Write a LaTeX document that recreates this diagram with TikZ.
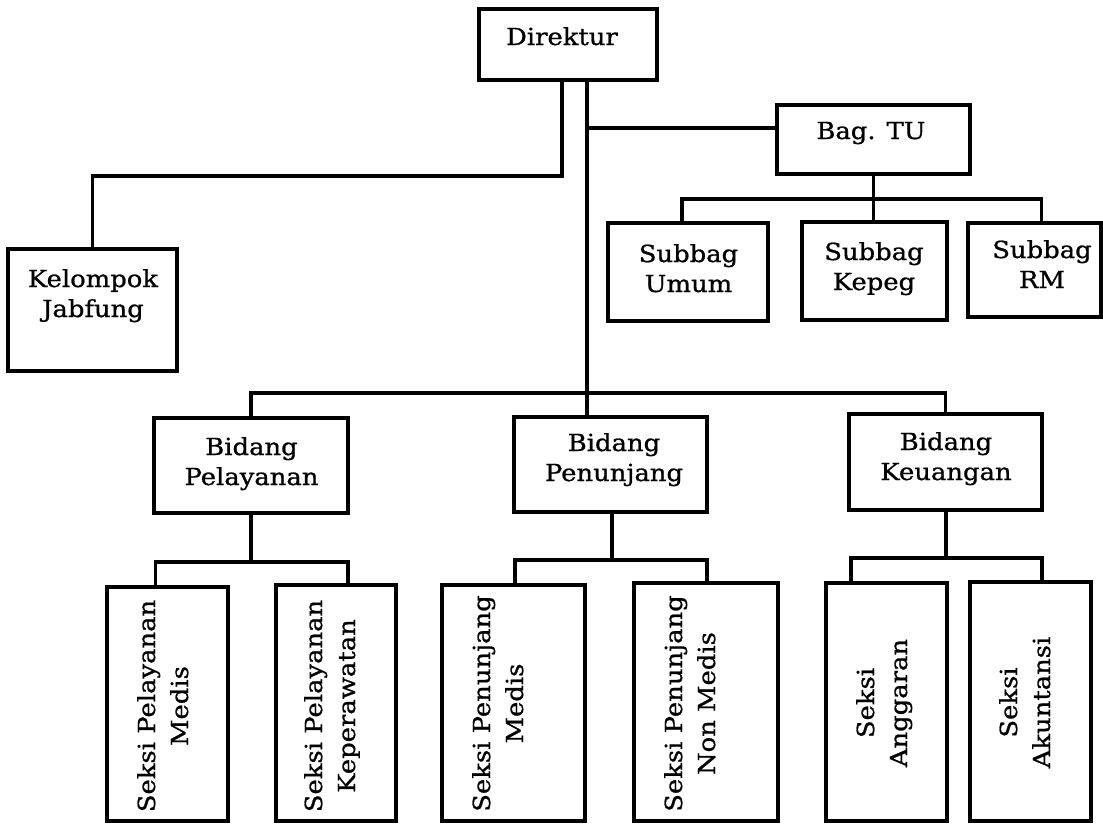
\documentclass[tikz,border=0pt]{standalone}
\usepackage{fontspec}
\setmainfont{DejaVu Serif}[FakeStretch=1.1,FakeBold=0.9]
\begin{document}
\begin{tikzpicture}[x=1pt,y=-1pt,
  box/.style={draw,line width=3.4pt,inner sep=0pt,outer sep=0pt},
  txt/.style={inner sep=0pt,outer sep=0pt,align=center,anchor=base,font=\fontsize{23.5}{30}\selectfont},
  vtxt/.style={inner sep=0pt,outer sep=0pt,align=center,anchor=base,rotate=90,font=\fontsize{23.5}{33}\selectfont},
  conn/.style={line width=3.4pt}]
\useasboundingbox (0,0) rectangle (1103,823);
% boxes
\node[box,minimum width=178pt,minimum height=71pt] (dir) at (568,44.5) {};
\node[box,minimum width=193pt,minimum height=69pt] (tu) at (873.5,139.5) {};
\node[box,minimum width=169pt,minimum height=122pt] (kel) at (92.5,310) {};
\node[box,minimum width=160pt,minimum height=98pt] (sum) at (688,272) {};
\node[box,minimum width=145pt,minimum height=98pt] (skp) at (874.5,271) {};
\node[box,minimum width=133pt,minimum height=94pt] (srm) at (1034.5,270) {};
\node[box,minimum width=194pt,minimum height=95pt] (bpl) at (251,465.5) {};
\node[box,minimum width=193pt,minimum height=95pt] (bpn) at (610.5,464.5) {};
\node[box,minimum width=193pt,minimum height=96pt] (bku) at (945.5,462) {};
\node[box,minimum width=121pt,minimum height=234pt] (spm) at (167.5,704) {};
\node[box,minimum width=120pt,minimum height=236pt] (spk) at (336,703) {};
\node[box,minimum width=143pt,minimum height=236pt] (snm) at (513.5,703) {};
\node[box,minimum width=144pt,minimum height=238pt] (snn) at (706,702) {};
\node[box,minimum width=121pt,minimum height=238pt] (sag) at (886.5,702) {};
\node[box,minimum width=121pt,minimum height=239pt] (sak) at (1030.5,701.5) {};
% texts (anchor at the baseline of the last line)
\node[txt] (tdir) at (562,45) {Direktur};
\node[txt] (ttu) at (871,139) {Bag. TU};
\node[txt] (tkel) at (93,317) {Kelompok\\Jabfung};
\node[txt] (tsum) at (688.5,292) {Subbag\\Umum};
\node[txt] (tskp) at (874,290) {Subbag\\Kepeg};
\node[txt] (tsrm) at (1042,288) {Subbag\\RM};
\node[txt] (tbpl) at (251.5,485) {Bidang\\Pelayanan};
\node[txt] (tbpn) at (614,481) {Bidang\\Penunjang};
\node[txt] (tbku) at (946,480) {Bidang\\Keuangan};
\node[vtxt] (tspm) at (188,706) {Seksi Pelayanan\\Medis};
\node[vtxt] (tspk) at (355,706) {Seksi Pelayanan\\Keperawatan};
\node[vtxt] (tsnm) at (523,703.5) {Seksi Penunjang\\Medis};
\node[vtxt] (tsnn) at (715,703.5) {Seksi Penunjang\\Non Medis};
\node[vtxt] (tsag) at (907,703) {Seksi\\Anggaran};
\node[vtxt] (tsak) at (1050,702.5) {Seksi\\Akuntansi};
% junction coordinates
\coordinate (jk) at (562,176);
\coordinate (jt) at (587,128);
\coordinate (js) at (873,199);
\coordinate (jb) at (587,393);
\coordinate (jpl) at (251,562);
\coordinate (jpn) at (612,560);
\coordinate (jku) at (946,558);
% connectors
\draw[conn] ([xshift=-6pt]dir.south) -- (jk) -| (kel.north);
\draw[conn] ([xshift=19pt]dir.south) -- ([xshift=19pt]dir.south |- bpn.north);
\draw[conn] (jt) -- (jt -| tu.west);
\draw[conn] (tu.south) -- (tu.south |- skp.north);
\draw[conn] ([xshift=-6pt]sum.north) |- (js) -| ([xshift=7pt]srm.north);
\draw[conn] (bpl.north) |- (jb) -| (bku.north);
\draw[conn] (bpl.south) -- (jpl);
\draw[conn] ([xshift=-12pt]spm.north) |- (jpl) -| ([xshift=12pt]spk.north);
\draw[conn] ([xshift=1.5pt]bpn.south) -- (jpn);
\draw[conn] ([xshift=1.5pt]snm.north) |- (jpn) -| ([xshift=1pt]snn.north);
\draw[conn] ([xshift=0.5pt]bku.south) -- (jku);
\draw[conn] ([xshift=-35.5pt]sag.north) |- (jku) -| ([xshift=11.5pt]sak.north);
\end{tikzpicture}
\end{document}
